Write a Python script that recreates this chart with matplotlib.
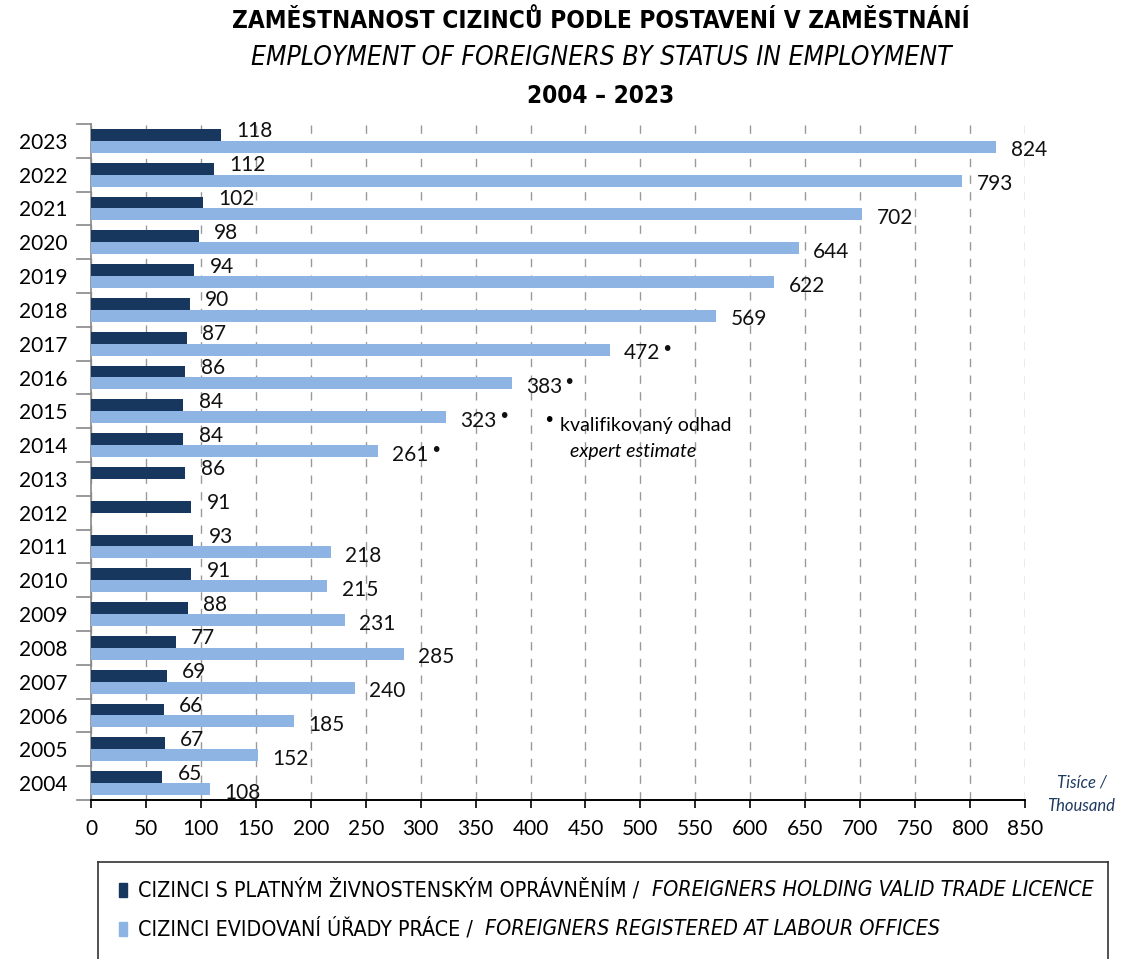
import matplotlib.pyplot as plt
import numpy as np

# data (thousands)
years = list(range(2004, 2024))
trade = [65, 67, 66, 69, 77, 88, 91, 93, 91, 86, 84, 84, 86, 87, 90, 94, 98, 102, 112, 118]
labour = [108, 152, 185, 240, 285, 231, 215, 218, None, None, 261, 323, 383, 472, 569, 622, 644, 702, 793, 824]
estimated = [2014, 2015, 2016, 2017]

dark = '#17375e'
light = '#8db4e2'
plt.rcParams['font.family'] = ['Lato', 'DejaVu Sans']

fig = plt.figure(figsize=(11.38, 9.59), dpi=100)
ax = fig.add_axes([91 / 1138, 1 - 800 / 959, 934 / 1138, 676 / 959])

y = np.arange(len(years))
h = 0.35
ax.barh(y + h / 2, trade, height=h, color=dark, zorder=3)
lab_vals = [v if v is not None else 0 for v in labour]
ax.barh(y - h / 2, lab_vals, height=h, color=light, zorder=3)

# value labels, estimated values get a trailing dot
fig.canvas.draw()
for i, yr in enumerate(years):
    ax.text(trade[i] + 14, y[i] + 0.28, str(trade[i]), va='center', ha='left', fontsize=15, color='#111111')
    if labour[i] is not None:
        t = ax.text(labour[i] + 13, y[i] - 0.28, str(labour[i]), va='center', ha='left', fontsize=15, color='#111111')
        if yr in estimated:
            bb = t.get_window_extent(renderer=fig.canvas.get_renderer())
            x1 = ax.transData.inverted().transform((bb.x1, bb.y1))[0]
            ax.text(x1 + 0.5, y[i] - 0.16, '\u2022', va='center', ha='left', fontsize=14,
                    family='DejaVu Sans', color='#111111')

ax.set_xlim(0, 850)
ax.set_ylim(-0.5, len(years) - 0.5)
ax.set_xticks(range(0, 851, 50))
ax.tick_params(axis='x', labelsize=15, length=6, width=1.2, direction='out', pad=8)
ax.set_yticks(y)
ax.set_yticklabels([str(v) for v in years], fontsize=15)
ax.tick_params(axis='y', length=0, pad=17)
for yy in np.arange(-0.5, len(years), 1):
    ax.plot([-13, 0], [yy, yy], color='#888888', lw=1.2, clip_on=False)
ax.grid(axis='x', linestyle=(0, (6, 6)), color='#999999', lw=1, zorder=0)
ax.spines['top'].set_visible(False)
ax.spines['right'].set_visible(False)
ax.spines['left'].set_color('#888888')
ax.spines['left'].set_linewidth(1.2)
ax.spines['bottom'].set_color('black')
ax.spines['bottom'].set_linewidth(1.4)

narrow = ['DejaVu Sans']
# titles
fig.text(0.528, 1 - 21 / 959, 'ZAMĚSTNANOST CIZINCŮ PODLE POSTAVENÍ V ZAMĚSTNÁNÍ', ha='center', va='center',
         fontsize=17.5, fontweight='bold', family=narrow, fontstretch='condensed')
fig.text(0.528, 1 - 58 / 959, 'EMPLOYMENT OF FOREIGNERS BY STATUS IN EMPLOYMENT', ha='center', va='center',
         fontsize=19, style='italic', family=narrow, fontstretch='condensed')
fig.text(0.528, 1 - 96 / 959, '2004 \u2013 2023', ha='center', va='center',
         fontsize=17.5, fontweight='bold', family=narrow, fontstretch='condensed')

# note
fig.text(549 / 1138, 1 - 421 / 959, '\u2022', ha='center', va='center', fontsize=14, family='DejaVu Sans')
fig.text(560 / 1138, 1 - 425 / 959, 'kvalifikovaný odhad', ha='left', va='center', fontsize=14)
fig.text(633 / 1138, 1 - 452 / 959, 'expert estimate', ha='center', va='center', fontsize=14, style='italic')
fig.text(1082 / 1138, 1 - 783 / 959, 'Tisíce /', ha='center', va='center', fontsize=12, style='italic', color='#1f3a60')
fig.text(1081 / 1138, 1 - 806 / 959, 'Thousand', ha='center', va='center', fontsize=12, style='italic', color='#1f3a60')

# legend box
lax = fig.add_axes([98 / 1138, 0, 1010 / 1138, (959 - 862) / 959])
lax.set_xlim(0, 1010)
lax.set_ylim(97, 0)
lax.set_xticks([])
lax.set_yticks([])
for s in lax.spines.values():
    s.set_color('#333333')
    s.set_linewidth(1.2)
lax.spines['bottom'].set_visible(False)
items = [(dark, 'CIZINCI S PLATNÝM ŽIVNOSTENSKÝM OPRÁVNĚNÍM /  ', 'FOREIGNERS HOLDING VALID TRADE LICENCE', 28),
         (light, 'CIZINCI EVIDOVANÍ ÚŘADY PRÁCE /  ', 'FOREIGNERS REGISTERED AT LABOUR OFFICES', 67)]
for col, cz, en, yy in items:
    lax.add_patch(plt.Rectangle((21, yy - 7), 8, 14, color=col))
    t = lax.text(40, yy, cz, ha='left', va='center', fontsize=15.4, family=narrow, fontstretch='condensed')
    fig.canvas.draw()
    bb = t.get_window_extent().transformed(lax.transData.inverted())
    lax.text(bb.x1, yy, en, ha='left', va='center', fontsize=15.4, style='italic', family=narrow, fontstretch='condensed')

fig.savefig('out.png', dpi=100)
